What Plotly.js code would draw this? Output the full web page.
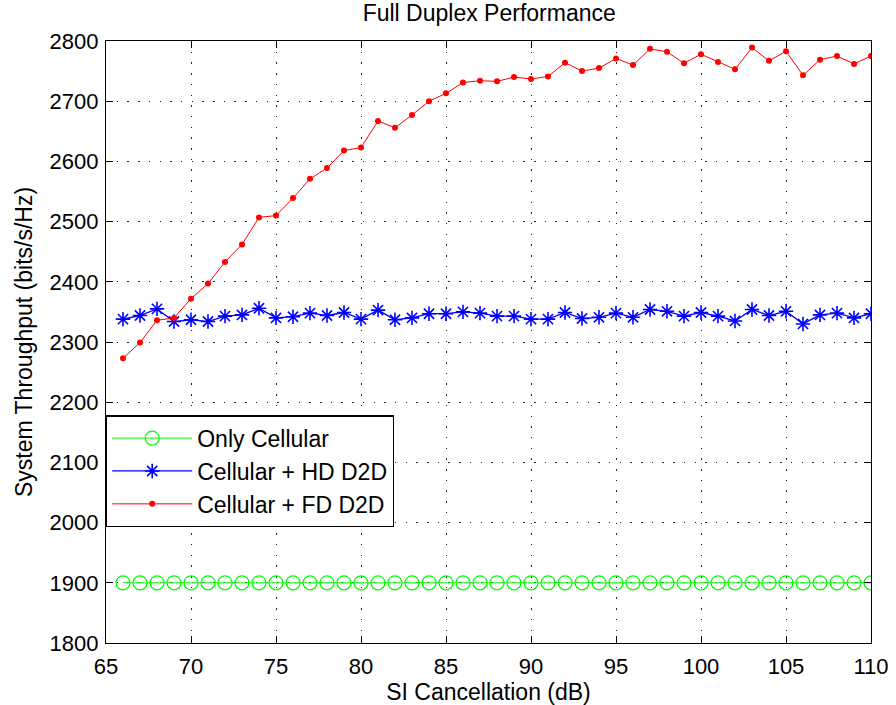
<!DOCTYPE html>
<html><head><meta charset="utf-8">
<script src="https://cdn.plot.ly/plotly-3.0.1.min.js"></script>
<style>body{margin:0;background:#fff}#c{width:896px;height:705px}</style>
</head><body><div id="c"></div>
<script>
const xVals = [66,67,68,69,70,71,72,73,74,75,76,77,78,79,80,81,82,83,84,85,86,87,88,89,90,91,92,93,94,95,96,97,98,99,100,101,102,103,104,105,106,107,108,109,110];
const onlyCellular = [1900,1900,1900,1900,1900,1900,1900,1900,1900,1900,1900,1900,1900,1900,1900,1900,1900,1900,1900,1900,1900,1900,1900,1900,1900,1900,1900,1900,1900,1900,1900,1900,1900,1900,1900,1900,1900,1900,1900,1900,1900,1900,1900,1900,1900];
const hdD2D = [2338,2344,2355,2334,2337,2334,2343,2345,2356,2340,2342,2348,2344,2349,2338,2353,2337,2340,2347,2347,2350,2348,2343,2343,2338,2338,2349,2339,2341,2348,2341,2354,2351,2343,2349,2343,2335,2354,2344,2351,2330,2345,2348,2340,2347];
const fdD2D = [2273,2299,2336,2340,2372,2397,2433,2462,2507,2510,2539,2571,2589,2618,2623,2667,2656,2677,2700,2713,2731,2734,2733,2740,2737,2741,2764,2750,2755,2771,2760,2787,2782,2763,2778,2765,2753,2789,2767,2783,2743,2769,2775,2762,2775];
const seriesNames = ['Only Cellular','Cellular + HD D2D','Cellular + FD D2D'];
const xTicks = [65,70,75,80,85,90,95,100,105,110];
const yTicks = [1800,1900,2000,2100,2200,2300,2400,2500,2600,2700,2800];

const fam = 'Liberation Sans, Arial, sans-serif';
const tickFont = {family:fam, size:22, color:'#000'};
const labelFont = {family:fam, size:23, color:'#000'};
const traces = [
  {x:xVals, y:onlyCellular, name:seriesNames[0], mode:'lines+markers', type:'scatter',
   line:{color:'#00ff00', width:1}, marker:{symbol:'circle-open', size:14, color:'#00ff00', line:{width:1.2}}},
  {x:xVals, y:hdD2D, name:seriesNames[1], mode:'lines+markers', type:'scatter',
   line:{color:'#0000ff', width:1.3}, marker:{symbol:'asterisk-open', size:12, color:'#0000ff', line:{width:1.6, color:'#0000ff'}}},
  {x:xVals, y:fdD2D, name:seriesNames[2], mode:'lines+markers', type:'scatter',
   line:{color:'#ff0000', width:1}, marker:{symbol:'circle', size:6, color:'#ff0000'}}
];
const axisCommon = {showline:true, mirror:'ticks', linecolor:'#000', linewidth:1.2, ticks:'inside', ticklen:7,
  tickcolor:'#000', showgrid:true, gridcolor:'#222', griddash:'1.5px,9.2px', gridwidth:1, zeroline:false, tickfont:tickFont};
const layout = {
  width:896, height:705,
  margin:{l:106, r:25, t:41, b:62},
  paper_bgcolor:'#fff', plot_bgcolor:'#fff',
  font:labelFont,
  title:{text:'Full Duplex Performance', font:labelFont, x:0.546, xanchor:'center', y:0.981, yanchor:'middle'},
  xaxis:Object.assign({}, axisCommon, {range:[65,110], tickvals:xTicks, ticktext:xTicks.map(String), ticklabelstandoff:3,
    title:{text:'SI Cancellation (dB)', font:labelFont, standoff:2}}),
  yaxis:Object.assign({}, axisCommon, {range:[1800,2800], tickvals:yTicks, ticktext:yTicks.map(String), ticklabelstandoff:2,
    title:{text:'System Throughput (bits/s/Hz)', font:labelFont, standoff:10}}),
  showlegend:true,
  legend:{x:0.0, y:0.192, xanchor:'left', yanchor:'bottom', bgcolor:'#fff', bordercolor:'#000', borderwidth:1.2,
    font:labelFont, itemwidth:80, tracegroupgap:0}
};
Plotly.newPlot('c', traces, layout, {displayModeBar:false, staticPlot:true});
</script></body></html>
